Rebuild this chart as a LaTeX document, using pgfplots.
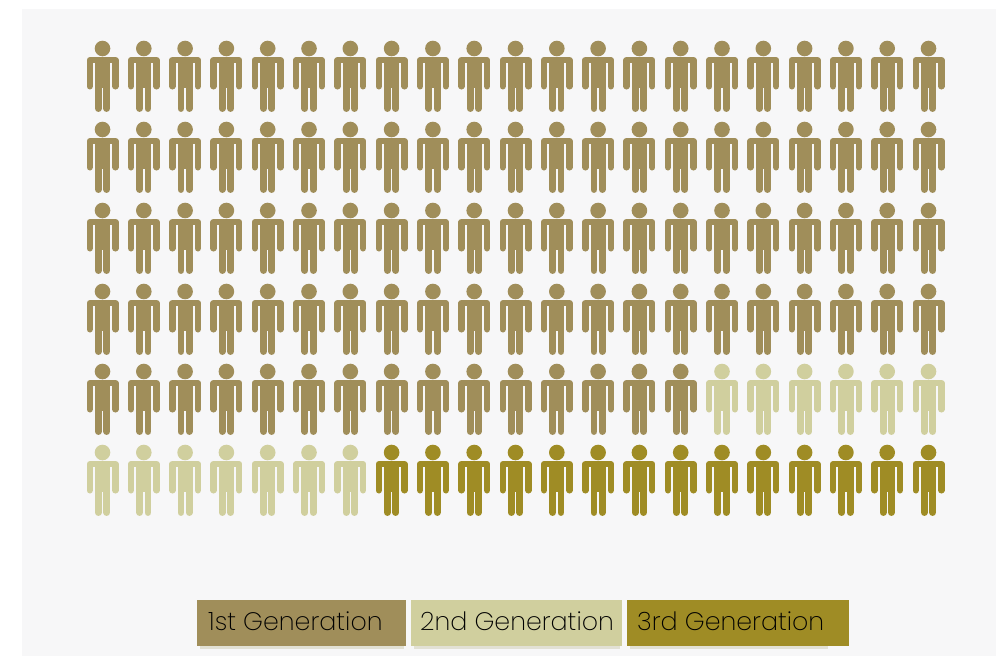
\documentclass[border=0pt]{standalone}
\usepackage{fontspec}
\setmainfont{Poppins ExtraLight}
\usepackage{pgfplots}
\usepackage{pgfplotstable}
\pgfplotsset{compat=1.18}

\definecolor{panel}{HTML}{F7F7F8}
\definecolor{firstgen}{HTML}{A08E5A}
\definecolor{secondgen}{HTML}{D0CF9E}
\definecolor{thirdgen}{HTML}{9F8C25}
\definecolor{boxshadow}{HTML}{E2E1D4}

% one person, centred on the data point
\pgfdeclareplotmark{person}{%
  \pgfpathcircle{\pgfpoint{0pt}{31.5pt}}{7.8pt}%
  \pgfusepathqfill
  % torso
  \pgfpathrectangle{\pgfpoint{-7.6pt}{-8pt}}{\pgfpoint{15.2pt}{29pt}}%
  \pgfusepathqfill
  \begin{pgfscope}
  \pgfsetroundcap
  \pgfsetroundjoin
  % shoulders and arms
  \pgfsetlinewidth{6.4pt}%
  \pgfpathmoveto{\pgfpoint{-12.8pt}{-6.3pt}}%
  \pgfpathlineto{\pgfpoint{-12.8pt}{19.8pt}}%
  \pgfpathlineto{\pgfpoint{12.8pt}{19.8pt}}%
  \pgfpathlineto{\pgfpoint{12.8pt}{-6.3pt}}%
  \pgfusepathqstroke
  % legs
  \pgfsetlinewidth{6.9pt}%
  \pgfpathmoveto{\pgfpoint{-4.15pt}{-28.5pt}}%
  \pgfpathlineto{\pgfpoint{-4.15pt}{-4pt}}%
  \pgfpathmoveto{\pgfpoint{4.15pt}{-28.5pt}}%
  \pgfpathlineto{\pgfpoint{4.15pt}{-4pt}}%
  \pgfusepathqstroke
  \end{pgfscope}
}

\pgfplotstableread{
x y
102.5 80
143.8 80
185.1 80
226.4 80
267.7 80
309 80
350.3 80
391.6 80
432.9 80
474.2 80
515.5 80
556.8 80
598.1 80
639.4 80
680.7 80
722 80
763.3 80
804.6 80
845.9 80
887.2 80
928.5 80
102.5 161
143.8 161
185.1 161
226.4 161
267.7 161
309 161
350.3 161
391.6 161
432.9 161
474.2 161
515.5 161
556.8 161
598.1 161
639.4 161
680.7 161
722 161
763.3 161
804.6 161
845.9 161
887.2 161
928.5 161
102.5 242
143.8 242
185.1 242
226.4 242
267.7 242
309 242
350.3 242
391.6 242
432.9 242
474.2 242
515.5 242
556.8 242
598.1 242
639.4 242
680.7 242
722 242
763.3 242
804.6 242
845.9 242
887.2 242
928.5 242
102.5 323
143.8 323
185.1 323
226.4 323
267.7 323
309 323
350.3 323
391.6 323
432.9 323
474.2 323
515.5 323
556.8 323
598.1 323
639.4 323
680.7 323
722 323
763.3 323
804.6 323
845.9 323
887.2 323
928.5 323
102.5 403
143.8 403
185.1 403
226.4 403
267.7 403
309 403
350.3 403
391.6 403
432.9 403
474.2 403
515.5 403
556.8 403
598.1 403
639.4 403
680.7 403
}\firstgentable

\pgfplotstableread{
x y
722 403
763.3 403
804.6 403
845.9 403
887.2 403
928.5 403
102.5 484
143.8 484
185.1 484
226.4 484
267.7 484
309 484
350.3 484
}\secondgentable

\pgfplotstableread{
x y
391.6 484
432.9 484
474.2 484
515.5 484
556.8 484
598.1 484
639.4 484
680.7 484
722 484
763.3 484
804.6 484
845.9 484
887.2 484
928.5 484
}\thirdgentable

\begin{document}
\begin{tikzpicture}
\begin{axis}[
  hide axis,
  scale only axis,
  width=996pt,
  height=656pt,
  xmin=0, xmax=996,
  ymin=0, ymax=656,
  y dir=reverse,
  clip=false,
]
  \fill[white] (axis cs:0,0) rectangle (axis cs:996,656);
  \fill[panel] (axis cs:22,9) rectangle (axis cs:996,656);

  \addplot[only marks, mark=person, color=firstgen] table {\firstgentable};
  \addplot[only marks, mark=person, color=secondgen] table {\secondgentable};
  \addplot[only marks, mark=person, color=thirdgen] table {\thirdgentable};

  % legend boxes
  \fill[boxshadow] (axis cs:200,603) rectangle (axis cs:404,649);
  \fill[boxshadow] (axis cs:414,603) rectangle (axis cs:620,649);
  \fill[boxshadow] (axis cs:630,603) rectangle (axis cs:828,649);
  \fill[firstgen] (axis cs:197,600) rectangle (axis cs:406,646);
  \fill[secondgen] (axis cs:411,600) rectangle (axis cs:622,646);
  \fill[thirdgen] (axis cs:627,600) rectangle (axis cs:849,646);
  \node[anchor=base west, inner sep=0pt, font=\fontsize{25.3}{29}\selectfont, text=black]
    at (axis cs:208,630) {1st Generation};
  \node[anchor=base west, inner sep=0pt, font=\fontsize{25.3}{29}\selectfont, text=black]
    at (axis cs:420,630) {2nd Generation};
  \node[anchor=base west, inner sep=0pt, font=\fontsize{25.3}{29}\selectfont, text=black]
    at (axis cs:637,630) {3rd Generation};
\end{axis}
\end{tikzpicture}
\end{document}
